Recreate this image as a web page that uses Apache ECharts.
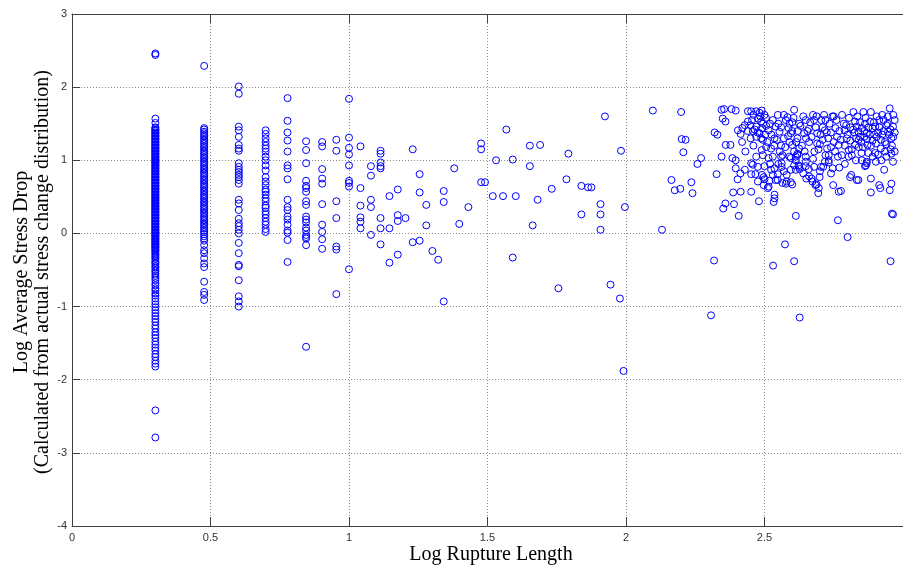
<!DOCTYPE html>
<html>
<head>
<meta charset="utf-8">
<script src="https://cdn.jsdelivr.net/npm/echarts@6/dist/echarts.min.js"></script>
<style>
  html, body { margin: 0; padding: 0; background: #fff; }
  #chart { width: 903px; height: 568px; }
</style>
</head>
<body>
<div id="chart"></div>
<script>
// Log average stress drop for ruptures of short, integer lengths (km)
const drop2km = [2.46, 2.44, 1.57, 1.51,
  1.45, 1.44, 1.42, 1.41, 1.40, 1.38, 1.37, 1.36, 1.34, 1.33, 1.32, 1.30, 1.29, 1.28, 1.26, 1.25,
  1.24, 1.22, 1.21, 1.20, 1.18, 1.17, 1.16, 1.14, 1.13, 1.12, 1.10, 1.09, 1.08, 1.06, 1.05, 1.04,
  1.02, 1.01, 1.00, 0.98, 0.97, 0.96, 0.94, 0.93, 0.92, 0.90, 0.89, 0.88, 0.86, 0.85, 0.84, 0.82,
  0.81, 0.80, 0.78, 0.77, 0.76, 0.74, 0.73, 0.72, 0.70, 0.69, 0.68, 0.66, 0.65, 0.64, 0.62, 0.61,
  0.60, 0.58, 0.57, 0.56, 0.54, 0.53, 0.52, 0.50, 0.49, 0.48, 0.46, 0.45, 0.44, 0.42, 0.41, 0.40,
  0.38, 0.37, 0.36, 0.34, 0.33, 0.32, 0.30, 0.29, 0.28, 0.26, 0.25, 0.24, 0.22, 0.21, 0.20, 0.18,
  0.17, 0.16, 0.14, 0.13, 0.12, 0.10, 0.09, 0.08, 0.06, 0.05, 0.04, 0.02, 0.01, 0.00, -0.02, -0.03,
  -0.04, -0.06, -0.07, -0.08, -0.10, -0.11, -0.12, -0.14, -0.15, -0.16, -0.18, -0.19, -0.20, -0.22,
  -0.23, -0.25, -0.27, -0.29, -0.31, -0.33, -0.35, -0.38, -0.40, -0.42, -0.45, -0.47, -0.50, -0.52,
  -0.55, -0.58, -0.61, -0.64, -0.68, -0.71, -0.75, -0.78, -0.82, -0.85, -0.89, -0.93, -0.97, -1.01,
  -1.05, -1.09, -1.13, -1.17, -1.21, -1.26, -1.30, -1.35, -1.39, -1.43, -1.48, -1.52, -1.56, -1.60,
  -1.65, -1.69, -1.74, -1.78, -1.82, -2.42, -2.79];
const drop3km = [2.29,
  1.44, 1.42, 1.39, 1.37, 1.34, 1.32, 1.29, 1.27, 1.24, 1.22, 1.19, 1.17, 1.14, 1.12, 1.09, 1.07,
  1.04, 1.02, 0.99, 0.97, 0.94, 0.92, 0.89, 0.87, 0.84, 0.82, 0.79, 0.77, 0.74, 0.72, 0.69, 0.67,
  0.64, 0.62, 0.59, 0.57, 0.54, 0.52, 0.49, 0.47, 0.44, 0.42, 0.39, 0.37, 0.34, 0.32, 0.29, 0.27,
  0.24, 0.22, 0.19, 0.17, 0.14, 0.12, 0.09, 0.07, 0.04, 0.02, -0.01, -0.04, -0.07, -0.10,
  -0.16, -0.23, -0.27, -0.34, -0.41, -0.46, -0.66, -0.80, -0.84, -0.91];
const drop4km = [2.01, 1.91, 1.46, 1.41, 1.32, 1.21, 1.16, 1.13, 0.96, 0.91, 0.87, 0.84, 0.80, 0.77,
  0.73, 0.68, 0.46, 0.41, 0.32, 0.20, 0.14, 0.10, 0.05, 0.00, -0.13, -0.27, -0.43, -0.45, -0.64,
  -0.86, -0.93, -1.00];
const drop5km = [1.41, 1.36, 1.30, 1.25, 1.20, 1.16, 1.12, 1.05, 1.00, 0.93, 0.86, 0.77, 0.71, 0.66,
  0.60, 0.57, 0.53, 0.48, 0.44, 0.38, 0.35, 0.30, 0.26, 0.21, 0.16, 0.12, 0.06, 0.02];
const drop6km = [1.85, 1.54, 1.38, 1.27, 1.12, 0.93, 0.89, 0.74, 0.46, 0.36, 0.32, 0.23, 0.19, 0.12,
  0.04, 0.01, -0.09, -0.39];
const drop7km = [1.26, 1.14, 0.96, 0.72, 0.65, 0.62, 0.57, 0.44, 0.39, 0.23, 0.19, 0.15, 0.08, 0.04,
  -0.02, -0.05, -0.07, -0.16, -1.55];
const drop8km = [1.25, 1.19, 0.88, 0.75, 0.68, 0.40, 0.12, 0.02, -0.08, -0.21];
const drop9km = [1.28, 1.13, 0.44, 0.21, -0.18, -0.22, -0.83];
const drop10km = [1.84, 1.31, 1.17, 1.08, 0.93, 0.72, 0.69, 0.64, -0.49];
const drop11km = [1.19, 0.62, 0.38, 0.22, 0.16, 0.07];
const drop12km = [0.92, 0.79, 0.46, 0.36, -0.02];
const drop13km = [1.13, 1.09, 0.97, 0.92, 0.89, 0.21, 0.07, -0.15];

const shortLengthsKm = [2, 3, 4, 5, 6, 7, 8, 9, 10, 11, 12, 13];
const shortDrops = [drop2km, drop3km, drop4km, drop5km, drop6km, drop7km, drop8km, drop9km,
  drop10km, drop11km, drop12km, drop13km];

// [log rupture length, log average stress drop] for longer ruptures
const midRuptures = [
  [1.146, 0.51], [1.146, 0.07], [1.146, -0.40],
  [1.176, 0.60], [1.176, 0.25], [1.176, 0.17], [1.176, -0.29],
  [1.204, 0.21], [1.230, 1.15], [1.230, -0.12],
  [1.255, 0.81], [1.255, 0.56], [1.255, -0.10],
  [1.279, 0.39], [1.279, 0.11], [1.301, -0.24], [1.322, -0.36],
  [1.342, 0.58], [1.342, 0.43], [1.342, -0.93],
  [1.380, 0.89], [1.398, 0.13], [1.431, 0.36],
  [1.477, 1.23], [1.477, 1.15], [1.477, 0.70], [1.491, 0.70],
  [1.519, 0.51], [1.531, 1.00], [1.556, 0.51], [1.568, 1.42], [1.591, 1.01], [1.591, -0.33], [1.602, 0.51],
  [1.653, 1.20], [1.653, 0.92], [1.663, 0.11], [1.681, 0.46], [1.690, 1.21],
  [1.732, 0.61], [1.756, -0.75], [1.785, 0.74], [1.792, 1.09], [1.839, 0.65], [1.839, 0.26],
  [1.863, 0.63], [1.875, 0.63],
  [1.908, 0.40], [1.908, 0.26], [1.908, 0.05], [1.924, 1.60], [1.944, -0.70], [1.978, -0.89],
  [1.982, 1.13], [1.991, -1.88], [1.996, 0.36],
  [2.097, 1.68], [2.130, 0.05], [2.164, 0.73], [2.176, 0.59], [2.196, 0.61], [2.199, 1.66],
  [2.201, 1.29], [2.215, 1.28], [2.207, 1.11], [2.236, 0.70], [2.240, 0.55], [2.258, 0.95], [2.271, 1.03]
];
const longRuptures = [
  [2.307, -1.12], [2.318, -0.37], [2.320, 1.38], [2.330, 1.35], [2.327, 0.81], [2.345, 1.69],
  [2.354, 1.70], [2.349, 1.57], [2.359, 1.53], [2.345, 1.05], [2.351, 0.34], [2.359, 0.41],
  [2.360, 1.21], [2.377, 1.21], [2.381, 1.70], [2.396, 1.68], [2.384, 1.03], [2.396, 1.00],
  [2.390, 0.40], [2.387, 0.56], [2.396, 0.89], [2.403, 0.74], [2.404, 1.41], [2.407, 0.24],
  [2.413, 0.82], [2.414, 1.36], [2.414, 0.57], [2.419, 1.25], [2.420, 1.44], [2.429, 1.48],
  [2.429, 0.87], [2.431, 1.12], [2.440, 1.67], [2.440, 1.53], [2.449, 1.48], [2.452, 1.67],
  [2.452, 0.96], [2.452, 0.81], [2.452, 0.57], [2.458, 1.40], [2.458, 0.94], [2.460, 1.62],
  [2.467, 0.81], [2.470, 1.67], [2.470, 1.46], [2.470, 1.32], [2.476, 1.57], [2.476, 0.91],
  [2.476, 0.71], [2.480, 0.44], [2.482, 1.65], [2.482, 1.37], [2.488, 1.53], [2.488, 1.30],
  [2.490, 1.14], [2.491, 1.44], [2.491, 0.80], [2.494, 1.28], [2.494, 1.07], [2.497, 0.77],
  [2.497, 0.66], [2.500, 0.74], [2.503, 1.35], [2.506, 1.47], [2.506, 1.18], [2.512, 0.62],
  [2.515, 1.41], [2.515, 1.03], [2.515, 0.64], [2.518, 0.72], [2.524, 1.16], [2.524, 0.87],
  [2.530, 1.05], [2.530, 0.80], [2.531, -0.44], [2.533, 0.43], [2.536, 1.30], [2.536, 0.89],
  [2.536, 0.53], [2.536, 0.48], [2.540, 1.46], [2.540, 0.73], [2.548, 1.62], [2.548, 0.81],
  [2.548, 0.73], [2.554, 1.39], [2.560, 1.05], [2.562, 0.91], [2.562, 0.96], [2.565, 1.07],
  [2.565, 0.69], [2.574, -0.15], [2.577, 1.55], [2.577, 0.68], [2.580, 0.71], [2.583, 1.59],
  [2.587, 1.44], [2.590, 1.25], [2.590, 1.05], [2.595, 1.37], [2.595, 1.03], [2.595, 0.87],
  [2.595, 0.70], [2.600, 1.21], [2.600, 0.67], [2.607, 1.69], [2.607, 1.12], [2.607, 0.93],
  [2.607, -0.38], [2.613, 1.05], [2.613, 1.00], [2.613, 0.87], [2.613, 0.24], [2.619, 1.30],
  [2.619, 1.09], [2.619, 1.07], [2.623, 0.93], [2.625, 1.16], [2.625, 0.91], [2.627, 0.88],
  [2.627, -1.15], [2.643, 1.37], [2.649, 1.55], [2.649, 1.05], [2.649, 0.98], [2.649, 0.92],
  [2.651, 0.75], [2.661, 1.25], [2.661, 0.78], [2.670, 0.75], [2.673, 0.71], [2.675, 1.02],
  [2.679, 1.55], [2.679, 0.91], [2.680, 1.12], [2.684, 0.66], [2.688, 1.60], [2.688, 0.67],
  [2.690, 1.37], [2.690, 1.23], [2.694, 0.55], [2.696, 0.62], [2.699, 0.77], [2.702, 1.35],
  [2.704, 0.91], [2.712, 0.91], [2.718, 1.41], [2.718, 0.98], [2.720, 1.55], [2.720, 1.07],
  [2.726, 1.16], [2.732, 1.07], [2.732, 1.00], [2.732, 0.97], [2.746, 0.89], [2.748, 0.66],
  [2.750, 1.60], [2.756, 1.44], [2.762, 1.32], [2.765, 1.05], [2.765, 0.18], [2.768, 1.21],
  [2.768, 0.57], [2.776, 0.58], [2.779, 1.07], [2.786, 1.50], [2.789, 1.41], [2.797, 1.30],
  [2.800, -0.05], [2.804, 1.14], [2.804, 1.05], [2.809, 0.77], [2.813, 0.80], [2.815, 1.07],
  [2.821, 1.66], [2.827, 1.53], [2.827, 1.21], [2.833, 1.46], [2.833, 0.73], [2.839, 1.39],
  [2.839, 0.73], [2.845, 1.32], [2.851, 1.44], [2.851, 1.00], [2.857, 1.66], [2.863, 1.50],
  [2.863, 0.92], [2.866, 0.93], [2.869, 1.37], [2.869, 0.98], [2.869, 0.96], [2.872, 1.21],
  [2.881, 1.53], [2.884, 1.66], [2.884, 0.75], [2.884, 0.56], [2.890, 1.44], [2.896, 1.35],
  [2.902, 1.23], [2.902, 0.98], [2.914, 1.55], [2.914, 0.66], [2.918, 0.62], [2.920, 1.16],
  [2.922, 1.00], [2.932, 0.87], [2.940, 1.48], [2.946, 1.39], [2.952, 1.71], [2.952, 0.59],
  [2.955, -0.38], [2.958, 1.30], [2.958, 1.09], [2.958, 0.68], [2.960, 0.27], [2.964, 1.46],
  [2.964, 0.98], [2.964, 0.26],
  [2.800, 1.35], [2.810, 1.27], [2.820, 1.42], [2.830, 1.30], [2.840, 1.18], [2.850, 1.25],
  [2.860, 1.40], [2.870, 1.29], [2.880, 1.35], [2.890, 1.27], [2.900, 1.46], [2.910, 1.38],
  [2.920, 1.28], [2.930, 1.40], [2.940, 1.22], [2.950, 1.35], [2.960, 1.20], [2.970, 1.38],
  [2.930, 1.55], [2.905, 1.60], [2.945, 1.60], [2.970, 1.55], [2.970, 1.12], [2.940, 1.05],
  [2.910, 1.08], [2.750, 1.25], [2.740, 1.38], [2.730, 1.30], [2.710, 1.45], [2.700, 1.22],
  [2.660, 1.43], [2.650, 1.30], [2.630, 1.47], [2.620, 1.40], [2.600, 1.52], [2.570, 1.30],
  [2.560, 1.20], [2.550, 1.50], [2.530, 1.55], [2.500, 1.62], [2.490, 1.68],
  [2.455, 1.55], [2.465, 1.42], [2.475, 1.38], [2.485, 1.60], [2.495, 1.50], [2.505, 1.58],
  [2.510, 1.25], [2.520, 1.50], [2.525, 1.35], [2.535, 1.20], [2.545, 1.28], [2.555, 1.12],
  [2.560, 1.45], [2.570, 1.62], [2.575, 1.18], [2.585, 1.33], [2.590, 1.50], [2.600, 1.40],
  [2.605, 1.58], [2.615, 1.25], [2.625, 1.50], [2.635, 1.20], [2.640, 1.60], [2.645, 1.12],
  [2.655, 1.40], [2.665, 1.52], [2.670, 1.32], [2.675, 1.62], [2.685, 1.45], [2.695, 1.15],
  [2.705, 1.55], [2.710, 1.28], [2.715, 1.62], [2.725, 1.38], [2.735, 1.50], [2.740, 1.18],
  [2.745, 1.60], [2.755, 1.12], [2.760, 1.55], [2.770, 1.40], [2.775, 1.28], [2.780, 1.62],
  [2.790, 1.20], [2.795, 1.48], [2.805, 1.58], [2.810, 1.45], [2.815, 1.15], [2.825, 1.38],
  [2.835, 1.60], [2.840, 1.28], [2.845, 1.52], [2.855, 1.18], [2.860, 1.32], [2.865, 1.58],
  [2.875, 1.45], [2.885, 1.20], [2.895, 1.52], [2.900, 1.10], [2.905, 1.32], [2.915, 1.45],
  [2.925, 1.62], [2.925, 1.35], [2.935, 1.25], [2.945, 1.50], [2.955, 1.42], [2.965, 1.62],
  [2.965, 1.32], [2.955, 1.15], [2.935, 1.12], [2.890, 1.05], [2.875, 1.10], [2.850, 1.10],
  [2.830, 1.00], [2.790, 0.95], [2.770, 0.90], [2.740, 0.82], [2.700, 0.85], [2.660, 0.88],
  [2.640, 0.82], [2.580, 0.80], [2.570, 0.85], [2.550, 0.95], [2.520, 0.95], [2.500, 0.92],
  [2.470, 1.05], [2.460, 1.20], [2.450, 1.30], [2.440, 1.40]
];

const xTicks = { min: 0, max: 3, step: 0.5 };
const yTicks = { min: -4, max: 3, step: 1 };

const points = [];
shortLengthsKm.forEach((km, i) => {
  const x = Math.log10(km);
  shortDrops[i].forEach(y => points.push([x, y]));
});
midRuptures.forEach(p => points.push(p));
longRuptures.forEach(p => points.push(p));

const axisColor = '#404040';
const gridLine = { show: true, lineStyle: { color: '#8a8a8a', width: 1, type: [1, 2] } };
const tickFont = { color: '#333', fontFamily: 'Liberation Sans, Arial, sans-serif', fontSize: 11 };
const serif = 'Liberation Serif, Times New Roman, serif';

const chart = echarts.init(document.getElementById('chart'), null, { renderer: 'canvas' });
chart.setOption({
  animation: false,
  backgroundColor: '#ffffff',
  grid: { left: 72, top: 14, width: 840, height: 512, containLabel: false },
  xAxis: [{
    type: 'value', min: xTicks.min, max: xTicks.max, interval: xTicks.step, position: 'bottom',
    axisLine: { show: true, onZero: false, lineStyle: { color: axisColor, width: 1 } },
    axisTick: { show: true, inside: true, length: 9, lineStyle: { color: axisColor } },
    axisLabel: Object.assign({ margin: 6, showMaxLabel: false }, tickFont),
    splitLine: gridLine
  }, {
    type: 'value', min: xTicks.min, max: xTicks.max, interval: xTicks.step, position: 'top',
    axisLine: { show: true, onZero: false, lineStyle: { color: axisColor, width: 1 } },
    axisTick: { show: true, inside: true, length: 9, lineStyle: { color: axisColor } },
    axisLabel: { show: false },
    splitLine: { show: false }
  }],
  yAxis: [{
    type: 'value', min: yTicks.min, max: yTicks.max, interval: yTicks.step, position: 'left',
    axisLine: { show: true, onZero: false, lineStyle: { color: axisColor, width: 1 } },
    axisTick: { show: true, inside: true, length: 8, lineStyle: { color: axisColor } },
    axisLabel: Object.assign({ margin: 5 }, tickFont),
    splitLine: gridLine
  }],
  graphic: [{
    type: 'text', x: 491, y: 555,
    style: { text: 'Log Rupture Length', font: '20px ' + serif, fill: '#000',
      textAlign: 'center', textVerticalAlign: 'middle' }
  }, {
    type: 'text', x: 32, y: 272, rotation: Math.PI / 2,
    style: { text: 'Log Average Stress Drop\n(Calculated from actual stress change distribution)',
      font: '20px ' + serif, fill: '#000', lineHeight: 21,
      textAlign: 'center', textVerticalAlign: 'middle' }
  }],
  series: [{
    type: 'scatter',
    xAxisIndex: 0, yAxisIndex: 0,
    data: points,
    symbol: 'circle',
    symbolSize: 7,
    itemStyle: { color: 'rgba(0,0,0,0)', borderColor: '#0000ff', borderWidth: 1, opacity: 1 },
    emphasis: { disabled: true },
    silent: true
  }]
});
</script>
</body>
</html>
